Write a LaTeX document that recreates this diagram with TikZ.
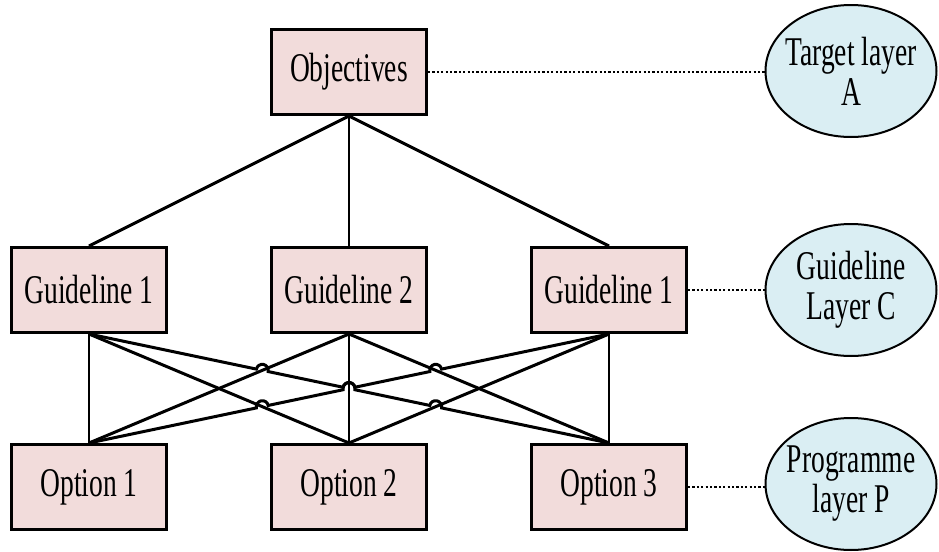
\documentclass[tikz,border=0pt]{standalone}
\usepackage{fontspec}
\setmainfont{Liberation Serif}[FakeStretch=0.675]
\usetikzlibrary{calc,shapes.geometric}
\definecolor{boxpink}{RGB}{242,220,219}
\definecolor{layerblue}{RGB}{218,238,243}

\begin{document}
\begin{tikzpicture}[x=0.5pt,y=-0.5pt,
        font=\fontsize{20.4pt}{20pt}\selectfont,
        box/.style={draw,line width=1.5pt,fill=boxpink,minimum width=77.5pt,minimum height=42.5pt,inner sep=0pt},
        layer/.style={ellipse,draw,line width=1pt,fill=layerblue,minimum width=85.5pt,minimum height=66pt,inner xsep=-30pt,inner ysep=0pt,align=center},
        link/.style={line width=1.5pt},
        stem/.style={line width=0.75pt},
        dots/.style={line width=1.3pt,dash pattern=on 1.1pt off 1.1pt}]
        \useasboundingbox (0,0) rectangle (939,552);
        % Hierarchy boxes
        \node[box] (ob) at (349,72) {Objectives};
        \foreach \i/\x/\k in {1/89/1,2/349/2,3/609/1} {
            \node[box] (g\i) at (\x,290) {Guideline \k};
            \node[box] (o\i) at (\x,487) {Option \i};
        }
        % Layer names
        \node[layer] (la) at (851,71) {Target layer\\A};
        \node[layer] (lc) at (851,290) {Guideline\\Layer C};
        \node[layer] (lp) at (851,484) {Programme\\layer P};
        \draw[dots] (ob.east) -- (ob.east -| la.west);
        \draw[dots] (g3.east) -- (g3.east -| lc.west);
        \draw[dots] (o3.east) -- (o3.east -| lp.west);
        % Objectives to guidelines
        \draw[link] (ob.south) -- (g1.north);
        \draw[stem] (ob.south) -- (g2.north);
        \draw[link] (ob.south) -- (g3.north);
        % Guidelines to options
        \foreach \i in {1,2,3}
            \draw[stem] (g\i.south) -- (o\i.north);
        \foreach \a/\b in {g1/o2,g2/o1,g2/o3,g3/o2}
            \draw[link] (\a.south) -- (\b.north);
        % Long links with line jumps
        \draw[link] let \p1=($(o3.north)-(g1.south)$), \n1={atan2(\y1,\x1)} in
            (g1.south) foreach \t in {0.3333,0.5,0.6667} {
                -- ($(g1.south)!\t!(o3.north)!3pt!(g1.south)$)
                arc[start angle=\n1+180,end angle=\n1,radius=3pt]
            } -- (o3.north);
        \draw[link] let \p1=($(g3.south)-(o1.north)$), \n1={atan2(\y1,\x1)} in
            (o1.north) foreach \t in {0.3333,0.5,0.6667} {
                -- ($(o1.north)!\t!(g3.south)!3pt!(o1.north)$)
                arc[start angle=\n1+180,end angle=\n1,radius=3pt]
            } -- (g3.south);
    \end{tikzpicture}
\end{document}
